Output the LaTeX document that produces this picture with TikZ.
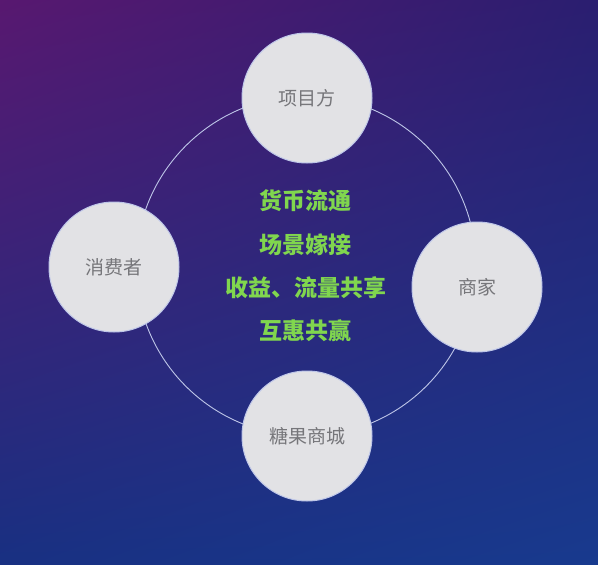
\documentclass[tikz,border=0pt]{standalone}
\usepackage{fontspec}
\setmainfont{Noto Sans CJK SC}
\usetikzlibrary{shadings}
\definecolor{bgpurple}{RGB}{88,24,112}
\definecolor{bgviolet}{RGB}{42,30,112}
\definecolor{bgblue}{RGB}{24,48,130}
\definecolor{bgdeep}{RGB}{24,58,142}
\definecolor{diskgray}{RGB}{226,226,229}
\definecolor{diskline}{RGB}{190,198,232}
\definecolor{labgray}{RGB}{118,118,122}
\definecolor{leafgreen}{RGB}{128,214,78}
\tikzset{
  party/.style={circle,fill=diskgray,draw=diskline,line width=1pt,minimum size=130pt,inner sep=0pt,
    text=labgray,font=\fontsize{19}{19}\selectfont},
  motto/.style={text=leafgreen,font=\fontsize{23}{23}\selectfont\bfseries}
}
\begin{document}
\begin{tikzpicture}[x=1pt,y=-1pt,line join=round,line cap=round]
	\useasboundingbox (0,0) rectangle (598,565);
	\shade[upper left=bgpurple,upper right=bgviolet,lower left=bgblue,lower right=bgdeep] (0,0) rectangle (598,565);
	\coordinate (ctr) at (306,266);
	\draw[diskline,line width=.9pt] (ctr) circle (170);
	\node[party] (xmf) at (307,98) {项目方};
	\node[party] (xfz) at (114,267) {消费者};
	\node[party] (sj) at (477,287) {商家};
	\node[party] (tgsc) at (307,436) {糖果商城};
	\node[motto] (l1) at (305,201) {货币流通};
	\node[motto] (l2) at (305,245) {场景嫁接};
	\node[motto] (l3) at (306,288) {收益、流量共享};
	\node[motto] (l4) at (305,331) {互惠共赢};
\end{tikzpicture}
\end{document}
